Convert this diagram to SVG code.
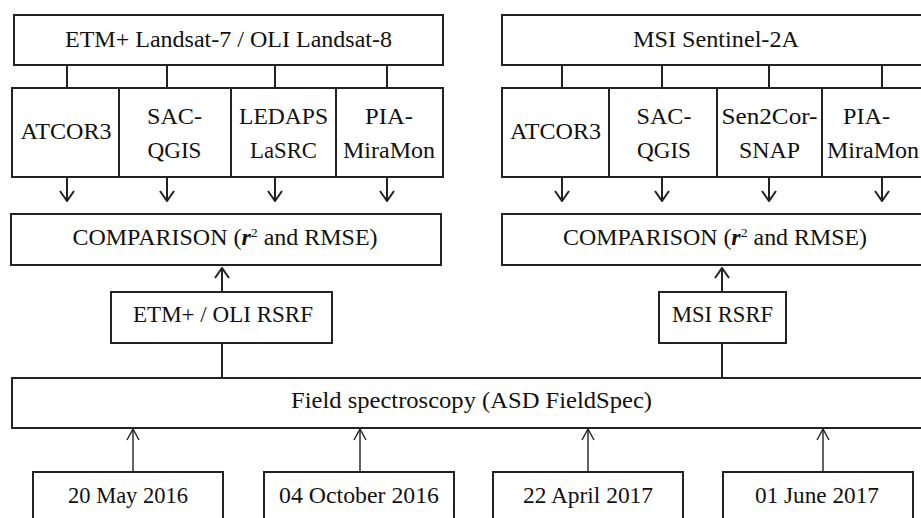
<svg xmlns="http://www.w3.org/2000/svg" width="921" height="518" viewBox="0 0 921 518">
<style>
.box{fill:#fff;stroke:#222;stroke-width:2}
.ln{fill:none;stroke:#222;stroke-width:2}
.thin{fill:none;stroke:#222;stroke-width:1.4}
text{font-family:'Liberation Serif','Times New Roman',serif;font-size:22.5px;fill:#111;text-anchor:middle}
</style>
<defs>
<marker id="ah" viewBox="0 0 12 16" refX="11" refY="8" markerWidth="12" markerHeight="16" orient="auto" markerUnits="userSpaceOnUse">
<path d="M1,1 L11,8 L1,15" fill="none" stroke="#222" stroke-width="2"/>
</marker>
<marker id="ah2" viewBox="0 0 13 14" refX="12" refY="7" markerWidth="13" markerHeight="14" orient="auto" markerUnits="userSpaceOnUse">
<path d="M1,1 L12,7 L1,13" fill="none" stroke="#222" stroke-width="1.4"/>
</marker>
</defs>

<g id="connectors">
<path class="ln" d="M67,65V88M167,65V88M275,65V88M387,65V88M562,65V88M662,65V88M769,65V88M882,65V88"/>
<path class="ln" d="M67,177V201" marker-end="url(#ah)"/>
<path class="ln" d="M167,177V201" marker-end="url(#ah)"/>
<path class="ln" d="M275,177V201" marker-end="url(#ah)"/>
<path class="ln" d="M387,177V201" marker-end="url(#ah)"/>
<path class="ln" d="M562,177V201" marker-end="url(#ah)"/>
<path class="ln" d="M662,177V201" marker-end="url(#ah)"/>
<path class="ln" d="M769,177V201" marker-end="url(#ah)"/>
<path class="ln" d="M882,177V201" marker-end="url(#ah)"/>
<path class="ln" d="M222,292V268" marker-end="url(#ah)"/>
<path class="ln" d="M722,292V268" marker-end="url(#ah)"/>
<path class="ln" d="M222,343V378M722,343V378"/>
<path class="thin" d="M133,472V429" marker-end="url(#ah2)"/>
<path class="thin" d="M360,472V429" marker-end="url(#ah2)"/>
<path class="thin" d="M588,472V429" marker-end="url(#ah2)"/>
<path class="thin" d="M823,472V429" marker-end="url(#ah2)"/>
</g>

<g id="landsat"><rect class="box" x="14" y="15" width="429" height="50"/><text x="228.5" y="47" textLength="327" lengthAdjust="spacingAndGlyphs">ETM+ Landsat-7 / OLI Landsat-8</text></g>
<g id="sentinel"><rect class="box" x="502" y="15" width="428" height="50"/><text x="716" y="47" textLength="166" lengthAdjust="spacingAndGlyphs">MSI Sentinel-2A</text></g>

<g id="l-atcor3"><rect class="box" x="12" y="88" width="107" height="89"/><text x="66" y="139" textLength="91" lengthAdjust="spacingAndGlyphs">ATCOR3</text></g>
<g id="l-sac"><rect class="box" x="119" y="88" width="112" height="89"/><text x="174.5" y="124" textLength="55" lengthAdjust="spacingAndGlyphs">SAC-</text><text x="174.5" y="158" textLength="54" lengthAdjust="spacingAndGlyphs">QGIS</text></g>
<g id="l-ledaps"><rect class="box" x="231" y="88" width="105" height="89"/><text x="283.5" y="124" textLength="89" lengthAdjust="spacingAndGlyphs">LEDAPS</text><text x="283.5" y="158" textLength="67" lengthAdjust="spacingAndGlyphs">LaSRC</text></g>
<g id="l-pia"><rect class="box" x="336" y="88" width="107" height="89"/><text x="389" y="124" textLength="48" lengthAdjust="spacingAndGlyphs">PIA-</text><text x="389" y="158" textLength="92" lengthAdjust="spacingAndGlyphs">MiraMon</text></g>

<g id="r-atcor3"><rect class="box" x="502" y="88" width="107" height="89"/><text x="555.5" y="139" textLength="91" lengthAdjust="spacingAndGlyphs">ATCOR3</text></g>
<g id="r-sac"><rect class="box" x="609" y="88" width="108" height="89"/><text x="664" y="124" textLength="55" lengthAdjust="spacingAndGlyphs">SAC-</text><text x="664" y="158" textLength="54" lengthAdjust="spacingAndGlyphs">QGIS</text></g>
<g id="r-sen2cor"><rect class="box" x="717" y="88" width="105" height="89"/><text x="769.5" y="124" textLength="96" lengthAdjust="spacingAndGlyphs">Sen2Cor-</text><text x="769.5" y="158" textLength="61" lengthAdjust="spacingAndGlyphs">SNAP</text></g>
<g id="r-pia"><rect class="box" x="822" y="88" width="108" height="89"/><text x="866.5" y="124" textLength="47" lengthAdjust="spacingAndGlyphs">PIA-</text><text x="873" y="158" textLength="92" lengthAdjust="spacingAndGlyphs">MiraMon</text></g>

<g id="l-comparison"><rect class="box" x="11" y="214" width="430" height="51"/><text x="225" y="245" textLength="305" lengthAdjust="spacingAndGlyphs">COMPARISON (<tspan font-style="italic" font-weight="bold">r</tspan><tspan font-size="13" dy="-8">2</tspan><tspan dy="8"> and RMSE)</tspan></text></g>
<g id="r-comparison"><rect class="box" x="502" y="214" width="428" height="51"/><text x="715" y="245" textLength="304" lengthAdjust="spacingAndGlyphs">COMPARISON (<tspan font-style="italic" font-weight="bold">r</tspan><tspan font-size="13" dy="-8">2</tspan><tspan dy="8"> and RMSE)</tspan></text></g>

<g id="l-rsrf"><rect class="box" x="111" y="292" width="221" height="51"/><text x="223" y="322" textLength="180" lengthAdjust="spacingAndGlyphs">ETM+ / OLI RSRF</text></g>
<g id="r-rsrf"><rect class="box" x="659" y="292" width="127" height="51"/><text x="722.5" y="322" textLength="101" lengthAdjust="spacingAndGlyphs">MSI RSRF</text></g>

<g id="field"><rect class="box" x="12" y="378" width="918" height="50"/><text x="471.5" y="408" textLength="361" lengthAdjust="spacingAndGlyphs">Field spectroscopy (ASD FieldSpec)</text></g>

<g id="d1"><rect class="box" x="33" y="472" width="190" height="60"/><text x="128" y="503" textLength="120" lengthAdjust="spacingAndGlyphs">20 May 2016</text></g>
<g id="d2"><rect class="box" x="264" y="472" width="190" height="60"/><text x="359" y="503" textLength="160" lengthAdjust="spacingAndGlyphs">04 October 2016</text></g>
<g id="d3"><rect class="box" x="493" y="472" width="190" height="60"/><text x="588" y="503" textLength="130" lengthAdjust="spacingAndGlyphs">22 April 2017</text></g>
<g id="d4"><rect class="box" x="723" y="472" width="190" height="60"/><text x="817" y="503" textLength="124" lengthAdjust="spacingAndGlyphs">01 June 2017</text></g>
</svg>
